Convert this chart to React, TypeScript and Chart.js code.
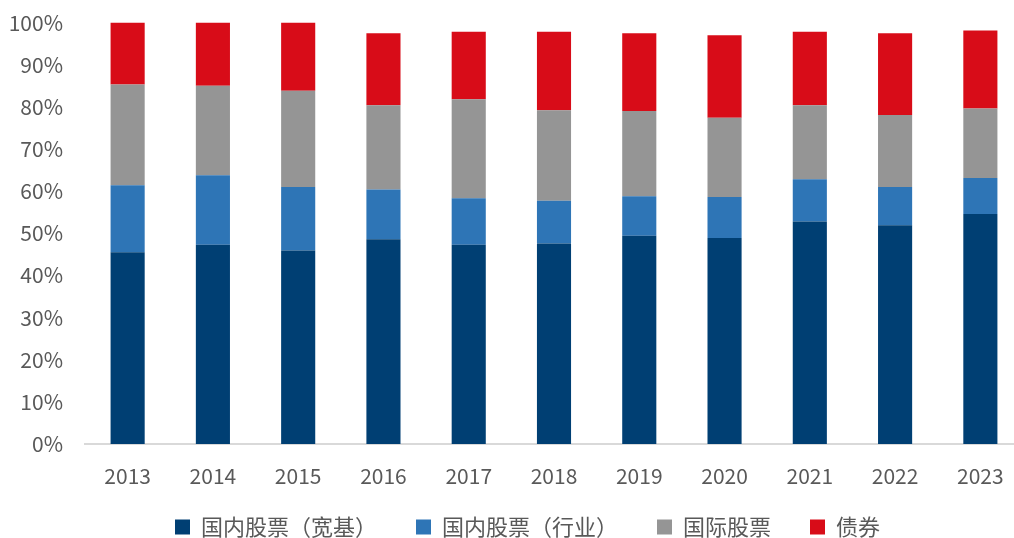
import React, { useEffect, useRef } from "react";
import { Chart, registerables } from "chart.js";

Chart.register(...registerables);

const years = ["2013", "2014", "2015", "2016", "2017", "2018", "2019", "2020", "2021", "2022", "2023"];
const domesticBroad = [45.5, 47.3, 45.9, 48.6, 47.3, 47.6, 49.4, 48.9, 52.8, 51.9, 54.6];
const domesticIndustry = [15.9, 16.5, 15.1, 11.8, 11.0, 10.1, 9.4, 9.7, 10.0, 9.1, 8.5];
const international = [23.9, 21.2, 22.8, 20.0, 23.5, 21.5, 20.2, 18.8, 17.6, 17.1, 16.5];
const bonds = [14.7, 15.0, 16.2, 17.1, 16.0, 18.6, 18.5, 19.6, 17.4, 19.4, 18.5];
const seriesNames = ["国内股票（宽基）", "国内股票（行业）", "国际股票", "债券"];
const seriesColors = ["#003F73", "#2E75B6", "#959595", "#D80C18"];

const FONT = '"Noto Sans CJK SC", "Noto Sans", sans-serif';
const TEXT = "#595959";

// nudges the legend box (layout only)
const legendShift = {
  id: "legendShift",
  afterLayout(chart: any) {
    const lg = chart.legend;
    if (lg) {
      lg.left += 16;
      lg.right += 16;
      lg.top -= 22;
      lg.bottom -= 22;
    }
  },
};

export default function App() {
  const ref = useRef<HTMLCanvasElement | null>(null);

  useEffect(() => {
    if (!ref.current) return;
    const values = [domesticBroad, domesticIndustry, international, bonds];
    const chart = new Chart(ref.current, {
      type: "bar",
      data: {
        labels: years,
        datasets: values.map((v, i) => ({
          label: seriesNames[i],
          data: v,
          backgroundColor: seriesColors[i],
          borderWidth: 0,
          categoryPercentage: 1,
          barPercentage: 0.4,
        })),
      },
      plugins: [legendShift],
      options: {
        responsive: false,
        animation: false,
        layout: { padding: { top: 10, right: 7, left: 0, bottom: 0 } },
        plugins: {
          tooltip: { enabled: false },
          legend: {
            position: "bottom",
            labels: {
              color: TEXT,
              font: { family: FONT, size: 22 },
              boxWidth: 15,
              boxHeight: 15,
              padding: 39,
            },
          },
        },
        scales: {
          x: {
            stacked: true,
            grid: { display: false, drawTicks: true, tickLength: 10 },
            border: { display: true, color: "#D9D9D9", width: 2 },
            ticks: {
              color: TEXT,
              font: { family: FONT, size: 21, lineHeight: 1 },
              padding: 12,
              maxRotation: 0,
            },
          },
          y: {
            stacked: true,
            min: 0,
            max: 100,
            grid: { display: false, drawTicks: true, tickLength: 12 },
            border: { display: false },
            ticks: {
              stepSize: 10,
              color: TEXT,
              font: { family: FONT, size: 21 },
              padding: 10,
              callback: (v: any) => `${v}%`,
            },
            afterFit: (s: any) => {
              s.width = 85;
            },
          },
        },
      },
    });
    return () => chart.destroy();
  }, []);

  return (
    <div
      style={{
        position: "absolute",
        left: 0,
        top: 0,
        width: 1014,
        height: 538,
        overflow: "hidden",
        background: "#fff",
      }}
    >
      <canvas
        ref={ref}
        width={1030}
        height={570}
        style={{ position: "absolute", left: 0, top: 0, width: 1030, height: 570 }}
      />
    </div>
  );
}
